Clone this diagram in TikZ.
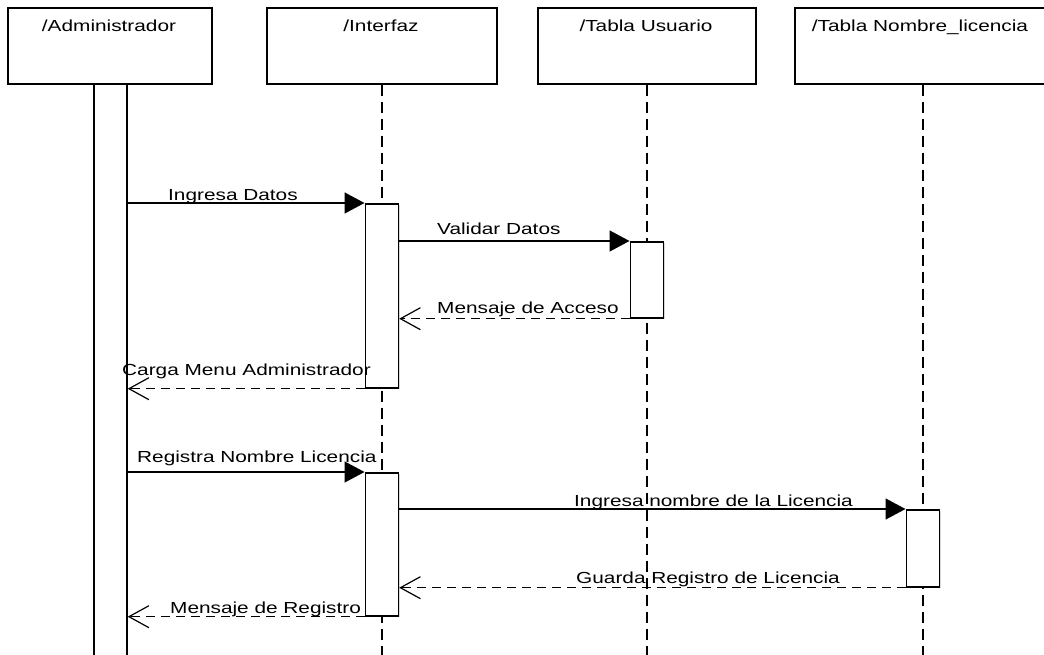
\documentclass[tikz,border=0pt]{standalone}
\usepackage{fontspec}
\newfontfamily\umlfont[FakeStretch=1.3]{Liberation Sans}
\usetikzlibrary{arrows.meta,shadows}
\begin{document}
\begin{tikzpicture}[x=1pt,y=-1pt,
  font=\umlfont\fontsize{16}{19}\selectfont,
  boxshadow/.style={drop shadow={shadow xshift=1.5pt,shadow yshift=-1.5pt,opacity=0.3,fill=gray}},
  objbox/.style={draw=black,line width=1.7pt,fill=white,rectangle,anchor=north west,
    inner sep=0pt,minimum height=76pt,boxshadow},
  actbar/.style={draw=black,line width=1.7pt,fill=white,rectangle,anchor=north west,
    inner sep=0pt,minimum width=33pt,boxshadow},
  lifeline/.style={line width=1.8pt,dash pattern=on 11pt off 6pt},
  call/.style={line width=1.5pt,-{Triangle[length=20pt,width=21pt]}},
  reply/.style={line width=1.5pt,dash pattern=on 9pt off 6pt,
    -{Straight Barb[length=20pt,width=22pt,line width=1.2pt]}},
  lbl/.style={anchor=base west,inner sep=0pt},
  ttl/.style={anchor=base,inner sep=0pt}
]
\clip (0,0) rectangle (1044,655);
\fill[white] (0,0) rectangle (1044,655);

% object heads
\node[objbox,minimum width=204pt] (adm) at (7,7) {};
\node[objbox,minimum width=230pt] (itf) at (266,7) {};
\node[objbox,minimum width=218pt] (usr) at (537,7) {};
\node[objbox,minimum width=256pt] (lic) at (794,7) {};
\node[ttl] (admT) at (109,32) {/Administrador};
\node[ttl] (itfT) at (381,32) {/Interfaz};
\node[ttl] (usrT) at (646,32) {/Tabla Usuario};
\node[ttl] (licT) at (920,32) {/Tabla Nombre\_licencia};

% lifelines
\coordinate (itfE) at (itf.south |- 0,660);
\coordinate (usrE) at (usr.south |- 0,660);
\coordinate (licE) at (lic.south |- 0,660);
\draw[lifeline] (itf.south) -- (itfE);
\draw[lifeline] (usr.south) -- (usrE);
\draw[lifeline] (lic.south) -- (licE);

% activation bars
\node[actbar,minimum height=600pt] (admB) at (93,83) {};
\node[actbar,minimum height=184pt] (itfB1) at (364.5,203) {};
\node[actbar,minimum height=143pt] (itfB2) at (364.5,472) {};
\node[actbar,minimum height=76pt] (usrB) at (629.5,241) {};
\node[actbar,minimum height=77pt] (licB) at (905.5,509) {};

% messages
\draw[call] (admB.east |- itfB1.north west) -- (itfB1.north west);
\draw[call] (itfB1.east |- usrB.north west) -- (usrB.north west);
\draw[reply] (usrB.south west) -- (itfB1.east |- usrB.south west);
\draw[reply] (itfB1.south west) -- (admB.east |- itfB1.south west);
\draw[call] (admB.east |- itfB2.north west) -- (itfB2.north west);
\draw[call] (itfB2.east |- licB.north west) -- (licB.north west);
\draw[reply] (licB.south west) -- (itfB2.east |- licB.south west);
\draw[reply] (itfB2.south west) -- (admB.east |- itfB2.south west);

% message labels
\node[lbl] (l1) at (168,200.5) {Ingresa Datos};
\node[lbl] (l2) at (437,235) {Validar Datos};
\node[lbl] (l3) at (437,313) {Mensaje de Acceso};
\node[lbl] (l4) at (122,375) {Carga Menu Administrador};
\node[lbl] (l5) at (137,462) {Registra Nombre Licencia};
\node[lbl] (l6) at (574,506) {Ingresa nombre de la Licencia};
\node[lbl] (l7) at (576,583) {Guarda Registro de Licencia};
\node[lbl] (l8) at (170,613) {Mensaje de Registro};
\end{tikzpicture}
\end{document}
